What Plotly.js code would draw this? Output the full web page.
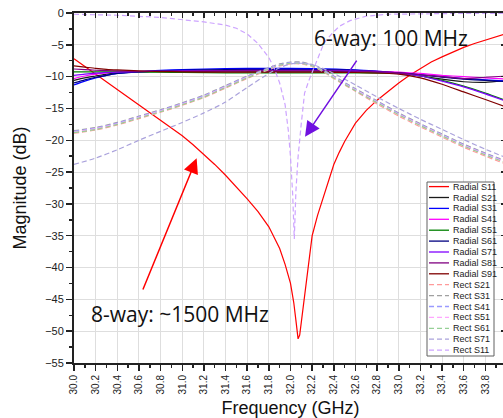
<!DOCTYPE html>
<html>
<head>
<meta charset="utf-8">
<script src="https://cdn.plot.ly/plotly-3.0.1.min.js"></script>
<style>
html,body{margin:0;padding:0;overflow:hidden;background:#fff;}
#chart{width:507px;height:418px;}
</style>
</head>
<body>
<div id="chart"></div>
<script>
// ---------------- data ----------------
const freqRadialS11 = [30.0, 30.1, 30.2, 30.3, 30.4, 30.5, 30.6, 30.7, 30.8, 30.9, 31.0, 31.1, 31.2, 31.3, 31.4, 31.5, 31.6, 31.7, 31.8, 31.9, 31.95, 32.0, 32.03, 32.05, 32.07, 32.085, 32.1, 32.12, 32.15, 32.18, 32.2, 32.25, 32.3, 32.35, 32.4, 32.45, 32.5, 32.6, 32.7, 32.8, 32.9, 33.0, 33.1, 33.2, 33.3, 33.4, 33.5, 33.6, 33.7, 33.8, 33.9, 34.0];
const radialS11 = [-7.2, -8.4, -9.6, -10.8, -12.0, -13.2, -14.4, -15.6, -16.8, -18.0, -19.3, -20.7, -22.2, -23.8, -25.5, -27.3, -29.2, -31.2, -33.6, -37.0, -39.5, -42.5, -45.5, -48.3, -51.2, -50.6, -48.5, -45.7, -41.0, -37.0, -35.0, -31.8, -29.0, -26.2, -23.8, -21.9, -20.2, -17.3, -15.3, -13.7, -12.3, -11.0, -9.8, -8.7, -7.7, -6.9, -6.1, -5.4, -4.8, -4.3, -3.7, -3.2];

const freqRadial = [30.0, 30.1, 30.2, 30.3, 30.4, 30.6, 30.8, 31.0, 31.4, 31.8, 32.2, 32.6, 33.0, 33.2, 33.4, 33.6, 33.8, 34.0];
const radialS21 = [-10.6, -10.2, -9.9, -9.6, -9.4, -9.25, -9.2, -9.2, -9.15, -9.15, -9.15, -9.2, -9.5, -9.9, -10.4, -10.8, -10.9, -10.6];
const radialS31 = [-11.3, -10.7, -10.2, -9.8, -9.5, -9.2, -9.0, -8.9, -8.75, -8.7, -8.75, -8.95, -9.4, -9.7, -10.0, -10.3, -10.5, -10.7];
const radialS41 = [-10.3, -9.9, -9.6, -9.4, -9.3, -9.2, -9.15, -9.1, -9.05, -9.0, -9.0, -9.05, -9.3, -9.5, -9.8, -10.0, -10.2, -10.4];
const radialS51 = [-9.25, -9.25, -9.25, -9.25, -9.25, -9.3, -9.3, -9.35, -9.4, -9.4, -9.4, -9.4, -9.5, -9.9, -10.6, -11.5, -12.6, -13.8];
const radialS61 = [-11.0, -10.5, -10.1, -9.8, -9.5, -9.25, -9.1, -9.0, -8.9, -8.85, -8.9, -9.0, -9.4, -9.7, -10.1, -10.4, -10.6, -10.8];
const radialS71 = [-9.8, -9.6, -9.45, -9.35, -9.3, -9.2, -9.15, -9.1, -9.05, -9.0, -9.0, -9.1, -9.5, -9.9, -10.7, -11.6, -12.7, -13.9];
const radialS81 = [-8.8, -8.9, -9.0, -9.05, -9.1, -9.15, -9.15, -9.15, -9.1, -9.1, -9.1, -9.15, -9.4, -9.7, -10.0, -10.3, -10.1, -9.9];
const radialS91 = [-8.3, -8.5, -8.7, -8.85, -8.95, -9.1, -9.2, -9.25, -9.3, -9.3, -9.3, -9.35, -9.6, -10.2, -11.2, -12.4, -13.6, -14.8];

const freqRect = [30.0, 30.2, 30.4, 30.6, 30.8, 31.0, 31.2, 31.4, 31.6, 31.8, 31.9, 32.0, 32.1, 32.2, 32.3, 32.4, 32.6, 32.8, 33.0, 33.2, 33.4, 33.6, 33.8, 34.0];
const rectS21 = [-18.9, -18.4, -17.6, -16.6, -15.6, -14.5, -13.3, -11.8, -10.3, -8.9, -8.3, -8.0, -8.0, -8.4, -9.2, -10.3, -12.3, -14.3, -16.2, -17.9, -19.5, -21.1, -22.5, -23.8];
const rectS31 = [-18.5, -18.0, -17.2, -16.2, -15.2, -14.1, -12.9, -11.4, -9.9, -8.6, -8.0, -7.7, -7.7, -8.1, -8.9, -9.9, -11.9, -13.8, -15.7, -17.4, -19.0, -20.6, -22.0, -23.3];
const rectS41 = [-18.6, -18.1, -17.3, -16.3, -15.3, -14.2, -13.0, -11.5, -10.0, -8.7, -8.1, -7.8, -7.8, -8.2, -9.0, -10.0, -12.0, -13.9, -15.8, -17.5, -19.1, -20.7, -22.1, -23.4];
const rectS51 = [-18.7, -18.2, -17.4, -16.4, -15.4, -14.3, -13.1, -11.6, -10.1, -8.8, -8.2, -7.9, -7.9, -8.3, -9.1, -10.1, -12.1, -14.0, -15.9, -17.6, -19.2, -20.8, -22.2, -23.5];
const rectS61 = [-18.8, -18.3, -17.5, -16.5, -15.5, -14.4, -13.2, -11.7, -10.2, -8.8, -8.2, -7.9, -7.9, -8.3, -9.1, -10.2, -12.2, -14.1, -16.0, -17.7, -19.3, -20.9, -22.3, -23.6];
const rectS71 = [-23.8, -22.8, -21.5, -20.0, -18.6, -17.2, -15.7, -14.0, -11.7, -9.5, -8.6, -8.0, -7.9, -8.1, -8.7, -9.5, -11.3, -13.2, -15.0, -16.7, -18.3, -19.9, -21.4, -22.8];

const freqRectS11 = [30.0, 30.4, 30.8, 31.0, 31.2, 31.4, 31.5, 31.6, 31.7, 31.8, 31.85, 31.9, 31.95, 31.98, 32.0, 32.02, 32.035, 32.05, 32.07, 32.1, 32.13, 32.17, 32.21, 32.26, 32.31, 32.38, 32.45, 32.55, 32.7, 32.9, 33.2, 33.6, 34.0];
const rectS11 = [-0.2, -0.35, -0.7, -1.0, -1.4, -1.9, -2.4, -3.3, -4.8, -7.0, -8.7, -11.0, -14.4, -18.5, -22.6, -28.5, -35.5, -28.0, -22.6, -17.3, -12.6, -10.6, -8.9, -6.6, -4.7, -3.3, -2.1, -1.2, -0.5, -0.2, -0.1, -0.05, -0.05];

const seriesNames = ['Radial S11','Radial S21','Radial S31','Radial S41','Radial S51','Radial S61','Radial S71','Radial S81','Radial S91',
                     'Rect S21','Rect S31','Rect S41','Rect S51','Rect S61','Rect S71','Rect S11'];
const seriesColors = ['#ff0000','#1a1a1a','#0000ff','#ff00ff','#008000','#000080','#8000ff','#800080','#800000',
                      '#ff9a9a','#a0a0a0','#9a9aff','#ffa6ff','#96d096','#aaa2dc','#cda4ff'];

const xTitle = 'Frequency (GHz)';
const yTitle = 'Magnitude (dB)';
const note8 = '8-way: ~1500 MHz';
const note6 = '6-way: 100 MHz';

// ---------------- traces ----------------
const seriesX = [freqRadialS11, freqRadial, freqRadial, freqRadial, freqRadial, freqRadial, freqRadial, freqRadial, freqRadial,
                 freqRect, freqRect, freqRect, freqRect, freqRect, freqRect, freqRectS11];
const seriesY = [radialS11, radialS21, radialS31, radialS41, radialS51, radialS61, radialS71, radialS81, radialS91,
                 rectS21, rectS31, rectS41, rectS51, rectS61, rectS71, rectS11];

const traces = seriesNames.map((n, i) => {
  const dense = (n === 'Radial S11' || n === 'Rect S11');
  return {
    type: 'scatter', mode: 'lines', name: n,
    x: seriesX[i], y: seriesY[i],
    line: {color: seriesColors[i], width: 1.2,
           shape: dense ? 'linear' : 'spline', smoothing: 0.6,
           dash: n.startsWith('Rect') ? '5px,3px' : 'solid'},
    hoverinfo: 'skip', showlegend: false
  };
});

// ---------------- layout helpers ----------------
const L = 74, T = 13, W = 433, H = 350;
const px = x => (x - L) / W;
const py = y => 1 - (y - T) / H;

const shapes = [];
const annotations = [];

// manual legend (compact, like reference)
const lgX0 = 427, lgX1 = 494, lgY0 = 182, lgY1 = 356, rowH = 10.9, row0 = 186.6;
shapes.push({type: 'rect', xref: 'paper', yref: 'paper', x0: px(lgX0), x1: px(lgX1), y0: py(lgY1), y1: py(lgY0),
             line: {color: '#606060', width: 1}, fillcolor: '#ffffff', layer: 'above'});
seriesNames.forEach((n, i) => {
  const yy = row0 + i * rowH;
  shapes.push({type: 'line', xref: 'paper', yref: 'paper', x0: px(429), x1: px(449), y0: py(yy), y1: py(yy),
               line: {color: seriesColors[i], width: 1.3, dash: n.startsWith('Rect') ? '5px,3px' : 'solid'}, layer: 'above'});
  annotations.push({xref: 'paper', yref: 'paper', x: px(450.5), y: py(yy), text: n, showarrow: false,
                    xanchor: 'left', yanchor: 'middle', font: {family: 'Arial, Liberation Sans', size: 9, color: '#222'}});
});

// arrows
annotations.push({x: 31.133, y: -22.84, ax: 30.631, ay: -43.7, axref: 'x', ayref: 'y', xref: 'x', yref: 'y',
                  text: '', showarrow: true, arrowhead: 2, arrowsize: 2, arrowwidth: 1.5, arrowcolor: '#ff0000', standoff: 0});
annotations.push({x: 32.134, y: -19.43, ax: 32.621, ay: -7.24, axref: 'x', ayref: 'y', xref: 'x', yref: 'y',
                  text: '', showarrow: true, arrowhead: 2, arrowsize: 2, arrowwidth: 1.5, arrowcolor: '#7010e0', standoff: 0});
// notes
annotations.push({x: 30.975, y: -47.3, xref: 'x', yref: 'y', text: note8, showarrow: false,
                  xanchor: 'center', yanchor: 'middle', font: {family: 'Open Sans', size: 21, color: '#111'}});
annotations.push({x: 32.93, y: -3.85, xref: 'x', yref: 'y', text: note6, showarrow: false,
                  xanchor: 'center', yanchor: 'middle', font: {family: 'Open Sans', size: 21, color: '#111'}});

const axisCol = '#222';
const layout = {
  width: 507, height: 418,
  margin: {l: L, r: 507 - L - W, t: T, b: 418 - T - H, pad: 0},
  paper_bgcolor: '#ffffff', plot_bgcolor: '#ffffff',
  showlegend: false,
  font: {family: 'Arial, Liberation Sans', color: '#222'},
  xaxis: {
    range: [30, 34], tick0: 30, dtick: 0.2, tickformat: '.1f', tickangle: -90,
    ticks: 'outside', ticklen: 6, tickwidth: 1.5, tickcolor: axisCol,
    showline: true, linewidth: 2, linecolor: axisCol, zeroline: false,
    showgrid: true, gridcolor: '#dedede', gridwidth: 1,
    tickfont: {size: 10, color: '#222'},
    minor: {dtick: 0.1, tick0: 30, ticks: 'outside', ticklen: 3, tickwidth: 1.5, tickcolor: axisCol, showgrid: false},
    title: {text: xTitle, font: {size: 18, color: '#111'}, standoff: 8},
    automargin: false, fixedrange: true
  },
  xaxis2: {
    overlaying: 'x', side: 'top', anchor: 'y', range: [30, 34], tick0: 30, dtick: 0.2,
    ticks: 'inside', ticklen: 5, tickwidth: 1.5, tickcolor: axisCol, showticklabels: false,
    showline: true, linewidth: 2, linecolor: axisCol, zeroline: false, showgrid: false,
    minor: {dtick: 0.1, tick0: 30, ticks: 'inside', ticklen: 3, tickwidth: 1.5, tickcolor: axisCol, showgrid: false},
    fixedrange: true
  },
  yaxis: {
    range: [-55, 0], tick0: 0, dtick: 5,
    ticks: 'outside', ticklen: 6, tickwidth: 1.5, tickcolor: axisCol,
    showline: true, linewidth: 2, linecolor: axisCol, zeroline: false,
    showgrid: true, gridcolor: '#dedede', gridwidth: 1,
    tickfont: {size: 11, color: '#222'},
    minor: {dtick: 2.5, tick0: 0, ticks: 'outside', ticklen: 3.5, tickwidth: 1.5, tickcolor: axisCol, showgrid: false},
    title: {text: yTitle, font: {size: 18, color: '#111'}, standoff: 14},
    automargin: false, fixedrange: true
  },
  yaxis2: {
    overlaying: 'y', side: 'right', anchor: 'x', range: [-55, 0], tick0: 0, dtick: 5,
    ticks: 'inside', ticklen: 6, tickwidth: 1.5, tickcolor: axisCol, showticklabels: false,
    showline: true, linewidth: 2, linecolor: axisCol, zeroline: false, showgrid: false,
    minor: {dtick: 2.5, tick0: 0, ticks: 'inside', ticklen: 3.5, tickwidth: 1.5, tickcolor: axisCol, showgrid: false},
    fixedrange: true
  },
  shapes: shapes,
  annotations: annotations
};

// invisible helper trace so the top/right axes are drawn
traces.push({type: 'scatter', mode: 'lines', x: [30, 34], y: [null, null], xaxis: 'x2', yaxis: 'y2',
             hoverinfo: 'skip', showlegend: false, line: {width: 0}});

Plotly.newPlot('chart', traces, layout, {staticPlot: true, displayModeBar: false});
</script>
</body>
</html>
